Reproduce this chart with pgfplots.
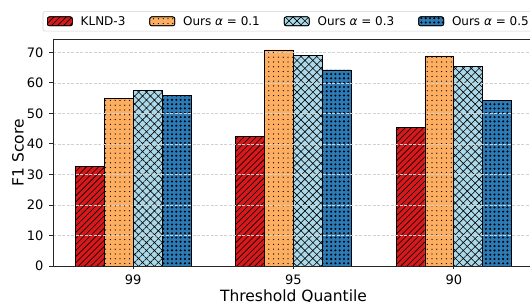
\documentclass[border=0pt]{standalone}
\usepackage{fontspec}
\setmainfont{DejaVu Sans}
\usepackage{pgfplots}
\pgfplotsset{compat=1.18}
\usetikzlibrary{patterns,patterns.meta}
\definecolor{cRed}{HTML}{D7191C}
\definecolor{cOrange}{HTML}{FDAE61}
\definecolor{cLBlue}{HTML}{ABD9E9}
\definecolor{cDBlue}{HTML}{2C7BB6}
\begin{document}
\begin{tikzpicture}
\pgfplotsset{set layers}
\begin{axis}[
  scale only axis,
  width=481pt, height=226.7pt,
  xmin=-0.5, xmax=2.5,
  ymin=0, ymax=74.25,
  ybar,
  bar width=0.18,
  xtick={0,1,2},
  xticklabels={99,95,90},
  ytick={0,10,...,70},
  /pgf/number format/assume math mode=true,
  tick align=outside,
  major tick length=3.5pt,
  tick style={black!85, line width=0.8pt},
  xtick pos=bottom, ytick pos=left,
  axis line style={black!85, line width=0.9pt},
  ymajorgrids,
  major grid style={gray!35, dash pattern=on 3pt off 1.5pt, line width=0.6pt},
  axis on top,
  ticklabel style={font=\fontsize{13}{15}\selectfont},
  xticklabel style={inner sep=0pt, anchor=north, yshift=-5pt},
  yticklabel style={inner sep=0pt, anchor=east, xshift=-6pt},
  every axis x label/.style={at={(axis description cs:0.5,-0.1036)}, anchor=north, inner sep=0pt, font=\fontsize{15.5}{18}\selectfont},
  every axis y label/.style={at={(axis description cs:-0.0728,0.5)}, rotate=90, anchor=center, inner sep=0pt, font=\fontsize{15.5}{18}\selectfont},
  xlabel={Threshold Quantile},
  ylabel={F1 Score},
  legend columns=4,
  legend cell align=left,
  legend style={at={(axis description cs:-0.0214,1.1233)}, anchor=north west,
    draw=gray!35, rounded corners=2pt, fill=white, line width=0.6pt,
    font=\fontsize{12}{14}\selectfont, inner xsep=4pt, inner ysep=2.5pt,
    /tikz/every odd column/.append style={column sep=6pt},
    /tikz/every even column/.append style={column sep=22pt}},
  legend image code/.code={\draw[#1] (0pt,-4.5pt) rectangle (25pt,4.5pt);},
]
\addplot[bar shift=-0.27, fill=cRed, draw=black, line width=0.7pt,
  postaction={pattern={Lines[angle=45,distance=4.3pt,line width=0.6pt]}, pattern color=black}]
  coordinates {(0,32.5) (1,42.5) (2,45.4)};
\addlegendentry{KLND-3}
\addplot[bar shift=-0.09, fill=cOrange, draw=black, line width=0.7pt,
  postaction={pattern={Dots[distance=4.8pt,radius=0.65pt]}, pattern color=black}]
  coordinates {(0,54.9) (1,70.75) (2,68.8)};
\addlegendentry{Ours \textit{α} = 0.1}
\addplot[bar shift=0.09, fill=cLBlue, draw=black, line width=0.7pt,
  postaction={pattern={Hatch[angle=45,distance=5.6pt,line width=0.6pt]}, pattern color=black}]
  coordinates {(0,57.5) (1,69.0) (2,65.4)};
\addlegendentry{Ours \textit{α} = 0.3}
\addplot[bar shift=0.27, fill=cDBlue, draw=black, line width=0.7pt,
  postaction={pattern={Dots[distance=4.3pt,radius=1.15pt]}, pattern color=black}]
  coordinates {(0,55.9) (1,64.2) (2,54.3)};
\addlegendentry{Ours \textit{α} = 0.5}
\end{axis}
\pgfresetboundingbox
\useasboundingbox (-53pt,-36pt) rectangle (477pt,266pt);
\end{tikzpicture}
\end{document}
